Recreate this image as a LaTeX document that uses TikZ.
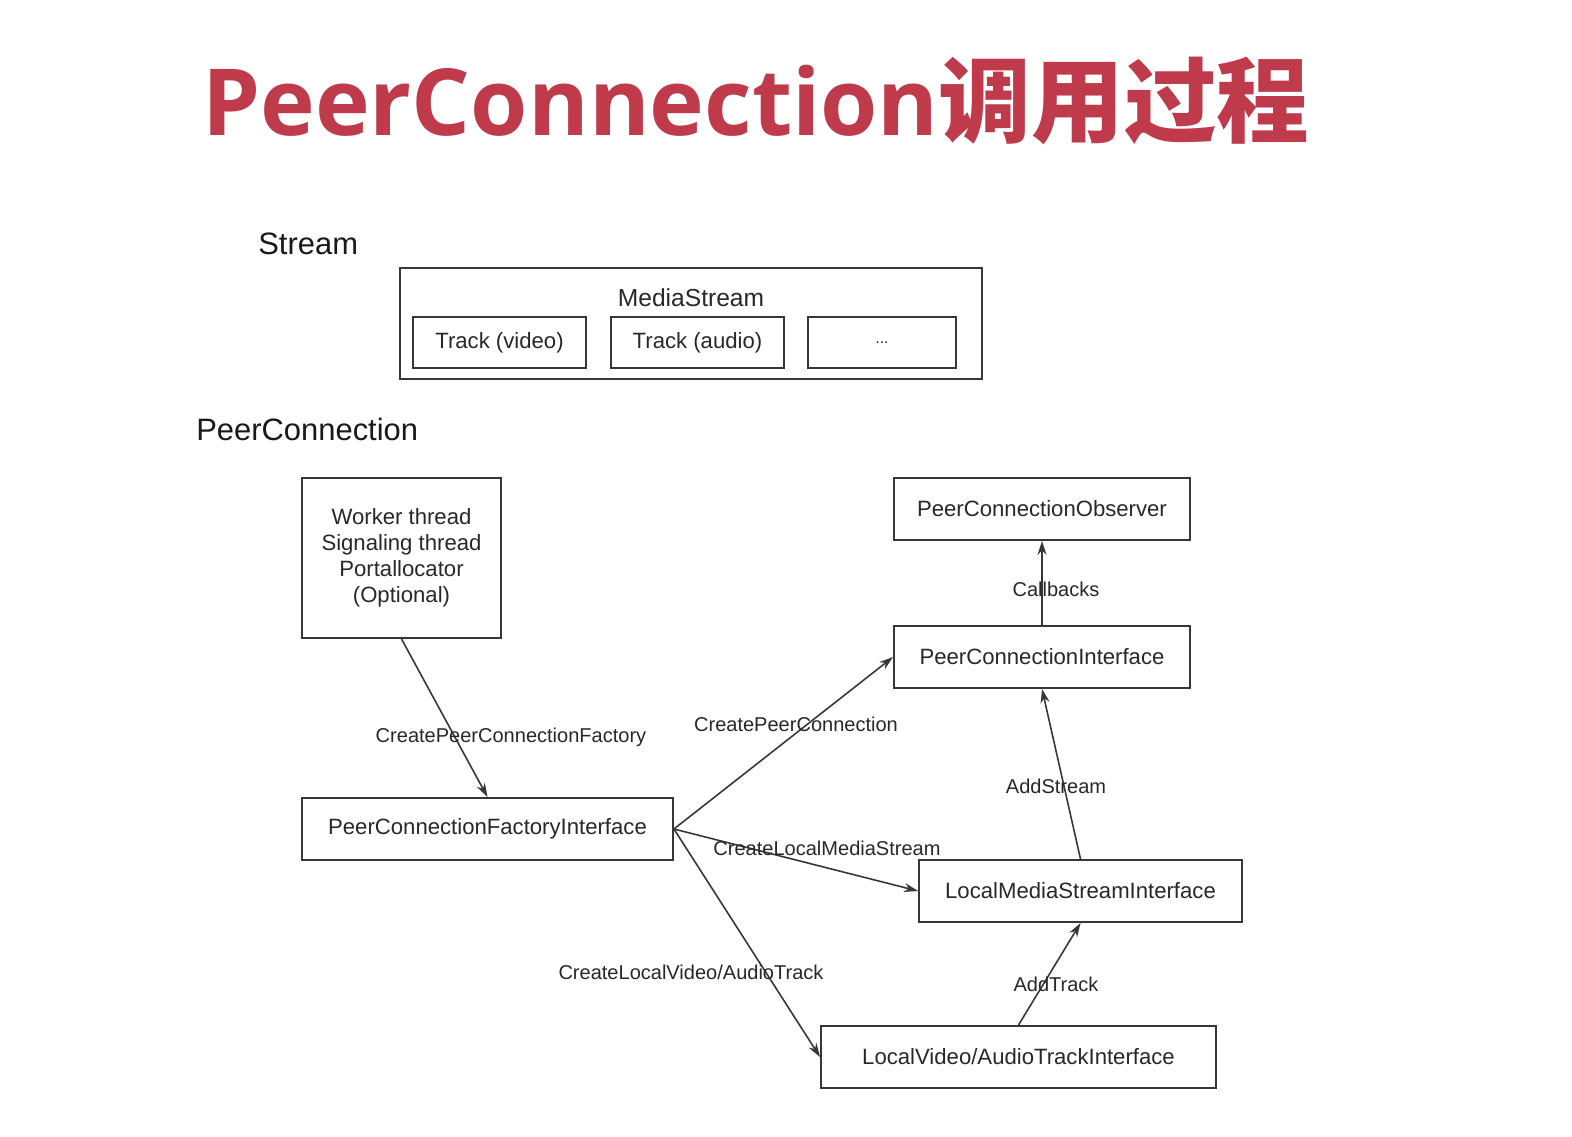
\documentclass[tikz,border=0pt]{standalone}
\usepackage{fontspec}
\setmainfont{Liberation Sans}
\newfontfamily\titlelat{Open Sans}
\newfontfamily\cjk{Noto Sans CJK SC}
\usetikzlibrary{arrows.meta}
\definecolor{titlered}{RGB}{191,58,74}
\definecolor{ink}{RGB}{40,40,40}
\definecolor{edge}{RGB}{55,55,55}
\tikzset{
  box/.style={draw=edge, line width=1.1pt, rectangle, inner sep=2pt, text=ink,
              font=\fontsize{12.6}{14.7}\selectfont, align=center},
  flow/.style={draw=edge, line width=0.9pt, -{Stealth[length=2.8mm,width=1.8mm]}},
  elabel/.style={text=ink, inner sep=0pt, font=\fontsize{11.4}{13}\selectfont},
  section/.style={text=black!90, inner sep=0pt, anchor=base west,
                  font=\fontsize{17.6}{20}\selectfont}
}
\begin{document}
\begin{tikzpicture}[x=0.02cm, y=-0.02cm]
  \useasboundingbox[fill=white] (0,0) rectangle (1572,1136);

  % heading
  \node[anchor=base west, inner sep=0pt, text=titlered,
        font=\fontsize{52.7}{60}\selectfont] (title) at (202,135)
    {{\titlelat\bfseries PeerConnection}{\cjk\bfseries 调用过程}};

  % --- Stream part ---
  \node[section] (lblstream) at (258,254) {Stream};
  \node[box, minimum width=11.64cm, minimum height=2.22cm] (ms) at (691,323.5) {};
  \node[text=ink, inner sep=0pt, font=\fontsize{14}{16}\selectfont] (mslabel) at (691,298) {MediaStream};
  \node[box, minimum width=3.46cm, minimum height=1.02cm] (tv) at (499.5,342.5) {Track (video)};
  \node[box, minimum width=3.46cm, minimum height=1.02cm] (ta) at (697.5,342.5) {Track (audio)};
  \node[box, minimum width=2.96cm, minimum height=1.02cm, font=\fontsize{9}{10}\selectfont] (td) at (882,342.5) {...};

  % --- PeerConnection part ---
  \node[section] (lblpc) at (196,440) {PeerConnection};

  \node[box, minimum width=3.98cm, minimum height=3.2cm] (worker) at (401.5,558)
    {Worker thread\\Signaling thread\\Portallocator\\(Optional)};
  \node[box, minimum width=7.42cm, minimum height=1.24cm] (pcf) at (487.5,829) {PeerConnectionFactoryInterface};
  \node[box, minimum width=5.92cm, minimum height=1.24cm] (pco) at (1042,509) {PeerConnectionObserver};
  \node[box, minimum width=5.92cm, minimum height=1.24cm] (pci) at (1042,657) {PeerConnectionInterface};
  \node[box, minimum width=6.46cm, minimum height=1.24cm] (lms) at (1080.5,891) {LocalMediaStreamInterface};
  \node[box, minimum width=7.90cm, minimum height=1.24cm] (lvt) at (1018.5,1057) {LocalVideo/AudioTrackInterface};

  % calls
  \draw[flow] (worker.south) -- (pcf.north);
  \draw[flow] (pcf.east) -- (pci.west);
  \draw[flow] (pcf.east) -- (lms.west);
  \draw[flow] (pcf.east) -- (lvt.west);
  \draw[flow] (lms.north) -- (pci.south);
  \draw[flow] (pci.north) -- (pco.south);
  \draw[flow] (lvt.north) -- (lms.south);

  % call labels
  \node[elabel] (l1) at (511,737) {CreatePeerConnectionFactory};
  \node[elabel] (l2) at (796,724) {CreatePeerConnection};
  \node[elabel] (l3) at (827,848) {CreateLocalMediaStream};
  \node[elabel] (l4) at (691,972) {CreateLocalVideo/AudioTrack};
  \node[elabel] (l5) at (1056,786) {AddStream};
  \node[elabel] (l6) at (1056,589) {Callbacks};
  \node[elabel] (l7) at (1056,984) {AddTrack};
\end{tikzpicture}
\end{document}
